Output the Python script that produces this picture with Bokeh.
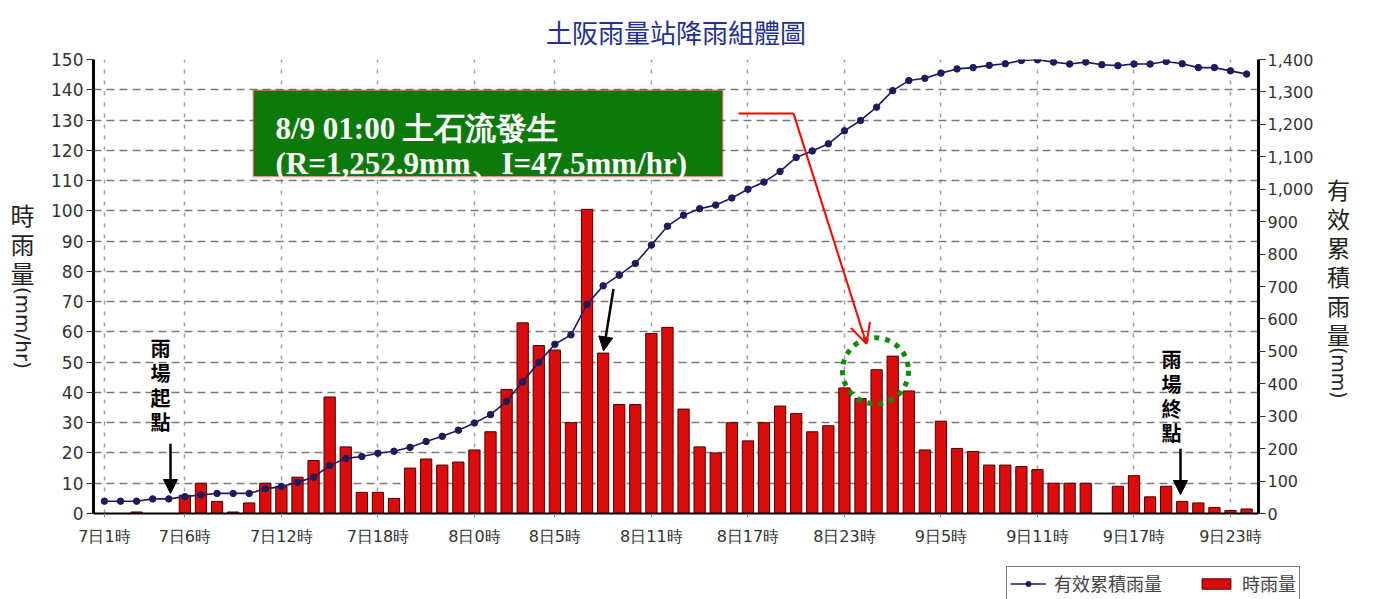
import math
from bokeh.plotting import figure
from bokeh.layouts import row, column
from bokeh.models import (Range1d, LinearAxis, FixedTicker, NumeralTickFormatter, Label,
                          Arrow, NormalHead, OpenHead, Legend, LegendItem, ColumnDataSource,
                          BoxAnnotation)
from bokeh.embed import file_html
from bokeh.resources import INLINE

# ---------------- data ----------------
hours = list(range(1, 73))  # 7日1時 ... 9日24時 (hour index)

hourly_rain = [0, 0, 0.5, 0, 0, 6, 10, 4, 0.5, 3.5,
               10, 9, 12, 17.5, 38.5, 22, 7, 7, 5, 15,
               18, 16, 17, 21, 27, 41, 63, 55.5, 54, 30,
               100.5, 53, 36, 36, 59.5, 61.5, 34.5, 22, 20, 30,
               24, 30, 35.5, 33, 27, 29, 41.5, 38, 47.5, 52,
               40.5, 21, 30.5, 21.5, 20.5, 16, 16, 15.5, 14.5, 10,
               10, 10, 0, 9, 12.5, 5.5, 9, 4, 3.5, 2,
               1, 1.5]

effective_cum = [38, 38, 38, 45, 45, 52, 57, 62, 62, 62,
                 76, 83, 96, 112, 148, 170, 176, 186, 192, 204,
                 222, 238, 257, 279, 305, 346, 406, 466, 522, 551,
                 645, 702, 735, 771, 828, 886, 920, 940, 951, 973,
                 1000, 1022, 1055, 1098, 1118, 1140, 1180, 1212, 1253, 1304,
                 1335, 1342, 1358, 1371, 1375, 1382, 1387, 1397, 1399, 1392,
                 1386, 1392, 1384, 1381, 1386, 1386, 1394, 1387, 1375, 1375,
                 1365, 1355]

xtick_hours = [1, 6, 12, 18, 24, 29, 35, 41, 47, 53, 59, 65, 71]
xtick_labels = ["7日1時", "7日6時", "7日12時", "7日18時", "8日0時", "8日5時", "8日11時",
                "8日17時", "8日23時", "9日5時", "9日11時", "9日17時", "9日23時"]
left_ticks = list(range(0, 151, 10))
right_ticks = list(range(0, 1401, 100))

title_text = "土阪雨量站降雨組體圖"
event_line1 = "8/9 01:00  土石流發生"
event_line2 = "(R=1,252.9mm、I=47.5mm/hr)"
left_title_cjk = "時雨量"
left_title_unit = "(mm/hr)"
right_title_cjk = "有效累積雨量"
right_title_unit = "(mm)"
series_names = ["有效累積雨量", "時雨量"]

# ---------------- layout (picture pixels) ----------------
CJK = "Noto Sans CJK TC"
TICK_FONT = "DejaVu Sans"
LINE_COLOR = "#1c1c5c"
BAR_FILL = "#dc0c0c"
BAR_LINE = "#4a0000"

TOTAL_W = 1382
TOP_H = 560
LEG_H = 39
LEFT_W = 48          # picture x 0..48
RIGHT_X0 = 1318      # picture x 1318..1382
FRAME_L, FRAME_R, FRAME_T, FRAME_B = 93, 1258, 58, 513
X_LO, X_HI = 0.32, 72.74


def dx(px):
    return X_LO + (px - FRAME_L) * (X_HI - X_LO) / (FRAME_R - FRAME_L)


def dy(py):
    return (FRAME_B - py) * 150.0 / (FRAME_B - FRAME_T)


p = figure(width=RIGHT_X0 - LEFT_W, height=TOP_H, output_backend="svg", toolbar_location=None,
           x_range=Range1d(X_LO, X_HI), y_range=Range1d(0, 150),
           min_border_left=FRAME_L - LEFT_W, min_border_right=RIGHT_X0 - FRAME_R,
           min_border_top=FRAME_T, min_border_bottom=TOP_H - FRAME_B)
p.outline_line_color = None
p.background_fill_color = "white"
p.border_fill_color = "white"
p.extra_y_ranges = {"cum": Range1d(0, 1400)}

p.title.text = title_text
p.title.align = "center"
p.title.text_font = CJK
p.title.text_font_size = "26px"
p.title.text_font_style = "normal"
p.title.text_color = "#24308f"
p.title.standoff = 20

src = ColumnDataSource(dict(hour=hours, rain=hourly_rain, cum=effective_cum))

# grids
p.ygrid.ticker = FixedTicker(ticks=left_ticks)
p.xgrid.ticker = FixedTicker(ticks=xtick_hours)
p.ygrid.grid_line_color = "#7a7a7a"
p.ygrid.grid_line_dash = "8 5"
p.ygrid.grid_line_width = 1.5
p.xgrid.grid_line_color = "#a0a0a0"
p.xgrid.grid_line_dash = "4 7"
p.xgrid.grid_line_width = 1.5

# left axis
la = p.yaxis[0]
la.ticker = FixedTicker(ticks=left_ticks)
la.axis_line_width = 3
la.axis_line_color = "black"
la.major_tick_out = 7
la.major_tick_in = 0
la.minor_tick_out = 0
la.minor_tick_in = 0
la.major_tick_line_color = "#333333"
la.major_label_text_font = TICK_FONT
la.major_label_text_font_size = "17px"
la.major_label_text_color = "#333333"
la.major_label_standoff = 3

# right axis
ra = LinearAxis(y_range_name="cum", ticker=FixedTicker(ticks=right_ticks),
                formatter=NumeralTickFormatter(format="0,0"))
ra.axis_line_width = 3
ra.axis_line_color = "black"
ra.major_tick_out = 7
ra.major_tick_in = 0
ra.minor_tick_out = 0
ra.minor_tick_in = 0
ra.major_tick_line_color = "#333333"
ra.major_label_text_font = TICK_FONT
ra.major_label_text_font_size = "16px"
ra.major_label_text_color = "#333333"
ra.major_label_standoff = 2
p.add_layout(ra, "right")

# bottom axis
xa = p.xaxis[0]
xa.ticker = FixedTicker(ticks=xtick_hours)
xa.major_label_overrides = {h: lab for h, lab in zip(xtick_hours, xtick_labels)}
xa.axis_line_width = 2
xa.axis_line_color = "black"
xa.major_tick_out = 4
xa.major_tick_in = 0
xa.minor_tick_out = 0
xa.minor_tick_in = 0
xa.major_tick_line_color = "#888888"
xa.major_label_text_font = TICK_FONT
xa.major_label_text_font_size = "16px"
xa.major_label_text_color = "#333333"
xa.major_label_standoff = 9

# bars and line
bars = p.vbar(x="hour", top="rain", width=0.7, source=src,
              fill_color=BAR_FILL, line_color=BAR_LINE, line_width=1)
ln = p.line(x="hour", y="cum", source=src, y_range_name="cum",
            line_color=LINE_COLOR, line_width=1.6)
dots = p.scatter(x="hour", y="cum", source=src, y_range_name="cum", marker="circle",
                 size=6.5, fill_color=LINE_COLOR, line_color=LINE_COLOR)

# ---------------- annotations in the plot ----------------
box = BoxAnnotation(left=dx(253), right=dx(722), top=dy(89), bottom=dy(175),
                    fill_color="#0b7a0b", fill_alpha=1.0, line_color="red", line_width=2.5)
p.add_layout(box)
for txt, py in [(event_line1, 127), (event_line2, 162)]:
    p.add_layout(Label(x=dx(275), y=dy(py), text=txt, text_color="white",
                       text_font="Liberation Serif", text_font_style="bold",
                       text_font_size="31px", text_baseline="alphabetic", text_align="left"))

# red pointer
p.add_layout(Arrow(x_start=dx(738), y_start=dy(112), x_end=dx(793), y_end=dy(112),
                   end=None, line_color="red", line_width=2))
p.add_layout(Arrow(x_start=dx(793), y_start=dy(112), x_end=dx(866), y_end=dy(343),
                   end=OpenHead(size=20, line_color="red", line_width=2),
                   line_color="red", line_width=2))

# green dotted circle
p.scatter(x=[dx(875)], y=[dy(370)], marker="circle", size=66, fill_color=None,
          line_color="#0c8c0c", line_width=5, line_dash="5 6")

# black arrows
for (x0, y0, x1, y1) in [(170, 443, 170, 493), (1180, 448, 1180, 494), (613, 288, 603, 350)]:
    p.add_layout(Arrow(x_start=dx(x0), y_start=dy(y0), x_end=dx(x1), y_end=dy(y1),
                       end=NormalHead(size=14, fill_color="black", line_color="black"),
                       line_color="black", line_width=2.5))

# rain start / end labels
for txt, px, py in [("雨\n場\n起\n點", 160, 384), ("雨\n場\n終\n點", 1171, 395)]:
    p.add_layout(Label(x=dx(px), y=dy(py), text=txt, text_font=CJK,
                       text_font_size="20px", text_align="center", text_baseline="middle",
                       text_line_height=0.85, text_color="black", text_font_style="bold"))


# ---------------- side figures for axis titles ----------------
# their plot areas line up with the chart's plot area (picture y 58..513)
def side_fig(x0, x1, y0, y1, height, xr=None, yr=None):
    f = figure(width=x1 - x0, height=height, output_backend="svg", toolbar_location=None,
               x_range=xr if xr is not None else Range1d(x0, x1),
               y_range=yr if yr is not None else Range1d(y1, y0),
               x_axis_location=None, y_axis_location=None,
               min_border=0, min_border_left=0, min_border_right=0,
               min_border_top=0, min_border_bottom=0)
    f.grid.visible = False
    f.outline_line_color = None
    f.background_fill_color = "white"
    f.border_fill_color = "white"
    return f


lf = side_fig(0, LEFT_W, FRAME_T, FRAME_B, TOP_H)
for ch, py in zip(left_title_cjk, [213, 242, 271]):
    lf.add_layout(Label(x=22, y=py, text=ch, text_font=CJK, text_font_size="24px",
                        text_color="#222222", text_align="center", text_baseline="middle"))
lf.add_layout(Label(x=22, y=327, text=left_title_unit, text_font=TICK_FONT,
                    text_font_size="20px", text_color="#222222", text_align="center",
                    text_baseline="middle", angle=-math.pi / 2))

rf = side_fig(RIGHT_X0, TOTAL_W, FRAME_T, FRAME_B, TOP_H)
for ch, py in zip(right_title_cjk, [188, 217, 246, 275, 304, 333]):
    rf.add_layout(Label(x=1338, y=py, text=ch, text_font=CJK, text_font_size="23px",
                        text_color="#222222", text_align="center", text_baseline="middle"))
rf.add_layout(Label(x=1338, y=372, text=right_title_unit, text_font=TICK_FONT,
                    text_font_size="19px", text_color="#222222", text_align="center",
                    text_baseline="middle", angle=-math.pi / 2))

# ---------------- legend strip ----------------
# ranges far from the data: only the legend entries show in this strip
gf = side_fig(0, TOTAL_W, 0, 0, LEG_H, xr=Range1d(5000, 6382), yr=Range1d(5000, 5039))
g_line = gf.line(x="hour", y="cum", source=src, line_color=LINE_COLOR, line_width=1.6)
g_dot = gf.scatter(x="hour", y="cum", source=src, marker="circle", size=6.5,
                   fill_color=LINE_COLOR, line_color=LINE_COLOR)
g_bar = gf.vbar(x="hour", top="rain", width=0.7, source=src, fill_color=BAR_FILL,
                line_color=BAR_LINE, line_width=1)
legend = Legend(items=[LegendItem(label=series_names[0], renderers=[g_line, g_dot]),
                       LegendItem(label=series_names[1], renderers=[g_bar])],
                location=(1006, -1),
                orientation="horizontal", glyph_width=36, glyph_height=13,
                label_text_font=CJK, label_text_font_size="18px", label_standoff=8,
                spacing=36, padding=3, margin=0, border_line_color="black",
                border_line_width=1.5, background_fill_color="white", background_fill_alpha=1)
gf.add_layout(legend, "center")

layout = column(row(lf, p, rf), gf)
open("out.html", "w").write(file_html(layout, INLINE))
